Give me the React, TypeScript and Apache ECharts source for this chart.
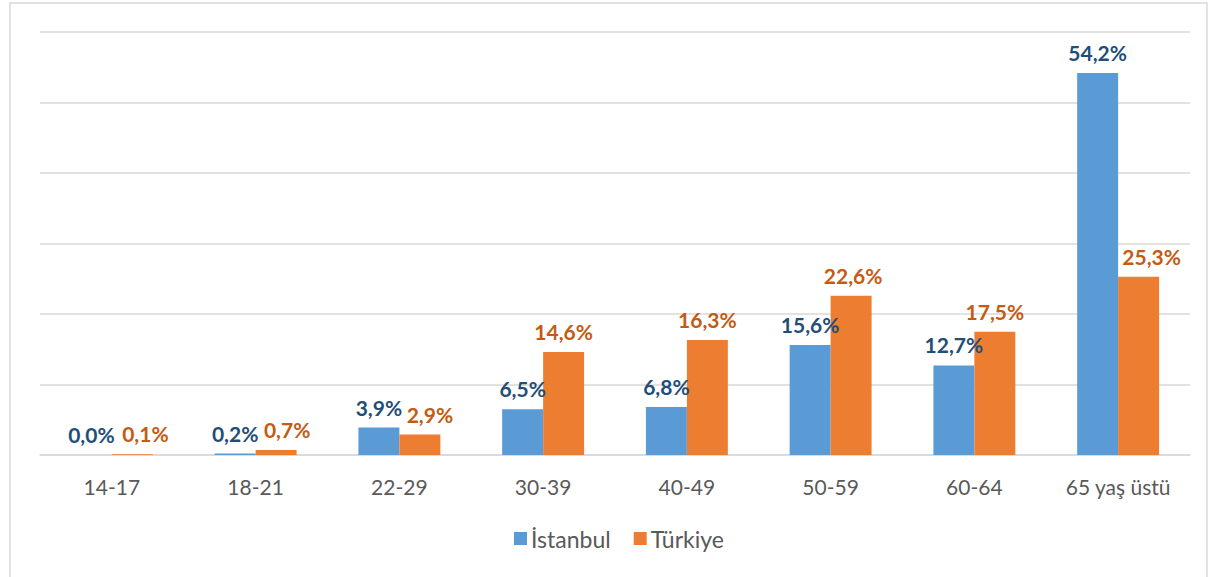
import React, { useEffect, useRef } from "react";
import * as echarts from "echarts";

const categories = ["14-17", "18-21", "22-29", "30-39", "40-49", "50-59", "60-64", "65 yaş üstü"];
const istanbul = [0.0, 0.2, 3.9, 6.5, 6.8, 15.6, 12.7, 54.2];
const turkiye = [0.1, 0.7, 2.9, 14.6, 16.3, 22.6, 17.5, 25.3];
const seriesNames = ["İstanbul", "Türkiye"];
// per-bar horizontal label nudges (Excel moved overlapping labels)
const turkiyeLabelShift = [13, 11, 10, 0, 0, 2, 0, 13];

const FONT = "Lato, 'Open Sans', sans-serif";
const fmt = (v: number) => v.toFixed(1).replace(".", ",") + "%";

export default function App() {
  const ref = useRef<HTMLDivElement>(null);
  useEffect(() => {
    if (!ref.current) return;
    const chart = echarts.init(ref.current, undefined, { renderer: "svg" });
    chart.setOption({
      animation: false,
      backgroundColor: "#ffffff",
      textStyle: { fontFamily: FONT },
      graphic: [
        {
          type: "rect",
          shape: { x: 10, y: 3, width: 1197, height: 590 },
          style: { fill: "none", stroke: "#d9d9d9", lineWidth: 1.5 },
          silent: true,
        },
      ],
      grid: { left: 40, right: 30, top: 32, bottom: 122, containLabel: false },
      legend: {
        data: seriesNames,
        bottom: 22,
        left: 509,
        itemWidth: 13,
        itemHeight: 13,
        itemGap: 23,
        icon: "rect",
        textStyle: { color: "#595959", fontSize: 23, fontFamily: FONT, padding: [0, 0, 0, -1] },
      },
      xAxis: {
        type: "category",
        data: categories,
        axisLine: { lineStyle: { color: "#d9d9d9", width: 1.5 } },
        axisTick: { show: false },
        axisLabel: { color: "#595959", fontSize: 21, margin: 21, fontFamily: FONT },
      },
      yAxis: {
        type: "value",
        min: 0,
        max: 60,
        interval: 10,
        axisLabel: { show: false },
        axisLine: { show: false },
        axisTick: { show: false },
        splitLine: { lineStyle: { color: "#d9d9d9", width: 1.5 } },
      },
      series: [
        {
          name: seriesNames[0],
          type: "bar",
          data: istanbul,
          barGap: "0%",
          barCategoryGap: "43%",
          itemStyle: { color: "#5b9bd5" },
          label: {
            show: true,
            position: "top",
            distance: 10,
            formatter: (p: any) => fmt(p.value),
            color: "#1f4e79",
            fontWeight: "bold",
            fontSize: 21,
            fontFamily: FONT,
          },
        },
        {
          name: seriesNames[1],
          type: "bar",
          data: turkiye.map((v, i) => ({
            value: v,
            label: { offset: [turkiyeLabelShift[i], 0] },
          })),
          itemStyle: { color: "#ed7d31" },
          label: {
            show: true,
            position: "top",
            distance: 10,
            formatter: (p: any) => fmt(p.value),
            color: "#c55a11",
            fontWeight: "bold",
            fontSize: 21,
            fontFamily: FONT,
          },
        },
      ],
    });
    return () => chart.dispose();
  }, []);
  return (
    <div
      ref={ref}
      style={{ position: "absolute", left: 0, top: 0, width: 1220, height: 577 }}
    />
  );
}
